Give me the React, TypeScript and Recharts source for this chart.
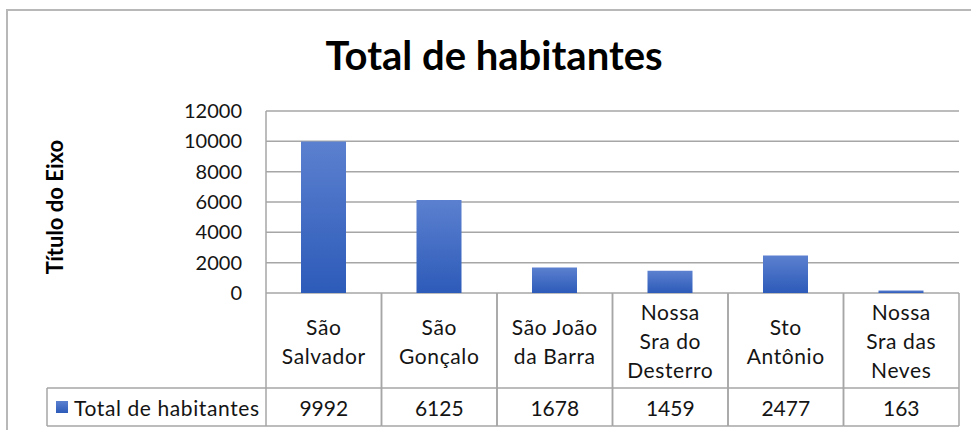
import { BarChart, Bar, XAxis, YAxis, CartesianGrid } from 'recharts'

// category labels as they wrap in the data table
const categoryLines = [
  ['São', 'Salvador'],
  ['São', 'Gonçalo'],
  ['São João', 'da Barra'],
  ['Nossa', 'Sra do', 'Desterro'],
  ['Sto', 'Antônio'],
  ['Nossa', 'Sra das', 'Neves'],
]
const habitantes = [9992, 6125, 1678, 1459, 2477, 163]
const yTicks = [0, 2000, 4000, 6000, 8000, 10000, 12000]
const seriesName = 'Total de habitantes'

const data = categoryLines.map((lines, i) => ({
  name: lines.join(' '),
  value: habitantes[i],
}))

const W = 971
const H = 430
const PLOT_LEFT = 266
const PLOT_RIGHT = 959
const CELL_W = (PLOT_RIGHT - PLOT_LEFT) / data.length
const LABEL_ROW_H = 95
const VALUE_ROW_H = 38
const LEGEND_LEFT = 47
const LINE_H = 29
const GRID = '#a6a6a6'
const FONT = 'Lato, "Open Sans", sans-serif'
const TEXT = '#141414'

function CategoryTick(props: any) {
  const { x, y, payload } = props
  const idx = data.findIndex(d => d.name === payload.value)
  const lines = categoryLines[idx] ?? []
  const half = CELL_W / 2
  const startY = y + LABEL_ROW_H / 2 - ((lines.length - 1) * LINE_H) / 2
  return (
    <g>
      <line x1={x - half} x2={x - half} y1={y} y2={y + LABEL_ROW_H} stroke={GRID} strokeWidth={1.5} />
      <line x1={x + half} x2={x + half} y1={y} y2={y + LABEL_ROW_H} stroke={GRID} strokeWidth={1.5} />
      {lines.map((l, i) => (
        <text
          key={i}
          x={x}
          y={startY + i * LINE_H}
          textAnchor="middle"
          dominantBaseline="central"
          fontFamily={FONT}
          fontSize={21}
          letterSpacing={0.6}
          fill={TEXT}
        >
          {l}
        </text>
      ))}
    </g>
  )
}

function ValueTick(props: any) {
  const { x, y, payload } = props
  const idx = data.findIndex(d => d.name === payload.value)
  const half = CELL_W / 2
  const left = x - half
  const right = x + half
  const bottom = y + VALUE_ROW_H
  return (
    <g>
      {idx === 0 && (
        <g>
          <line x1={LEGEND_LEFT} x2={left} y1={y} y2={y} stroke={GRID} strokeWidth={1.5} />
          <line x1={LEGEND_LEFT} x2={left} y1={bottom} y2={bottom} stroke={GRID} strokeWidth={1.5} />
          <line x1={LEGEND_LEFT} x2={LEGEND_LEFT} y1={y} y2={bottom} stroke={GRID} strokeWidth={1.5} />
          <rect x={LEGEND_LEFT + 9} y={y + VALUE_ROW_H / 2 - 6} width={12} height={12} fill="url(#barFill)" />
          <text
            x={LEGEND_LEFT + 27}
            y={y + VALUE_ROW_H / 2}
            dominantBaseline="central"
            fontFamily={FONT}
            fontSize={21}
            letterSpacing={0.6}
            fill={TEXT}
          >
            {seriesName}
          </text>
        </g>
      )}
      <line x1={left} x2={right} y1={y} y2={y} stroke={GRID} strokeWidth={1.5} />
      <line x1={left} x2={right} y1={bottom} y2={bottom} stroke={GRID} strokeWidth={1.5} />
      <line x1={left} x2={left} y1={y} y2={bottom} stroke={GRID} strokeWidth={1.5} />
      <line x1={right} x2={right} y1={y} y2={bottom} stroke={GRID} strokeWidth={1.5} />
      <text
        x={x}
        y={y + VALUE_ROW_H / 2}
        textAnchor="middle"
        dominantBaseline="central"
        fontFamily={FONT}
        fontSize={21}
        fill={TEXT}
      >
        {habitantes[idx]}
      </text>
    </g>
  )
}

export default function App() {
  return (
    <div style={{ position: 'absolute', left: 0, top: 0, width: W, height: H, overflow: 'hidden', background: '#fff' }}>
      {/* chart frame: only left and top edges are in view */}
      <div
        style={{
          position: 'absolute', left: 6, top: 9, width: W + 20, height: H + 20,
          borderLeft: '2px solid #b8b8b8', borderTop: '2px solid #b8b8b8',
        }}
      />
      <div style={{ position: 'absolute', left: 0, top: 0 }}>
        <BarChart
          width={W}
          height={H}
          data={data}
          margin={{ top: 111, right: W - PLOT_RIGHT, left: 0, bottom: H - 293 - LABEL_ROW_H - VALUE_ROW_H }}
        >
          <defs>
            <linearGradient id="barFill" x1="0" y1="0" x2="0" y2="1">
              <stop offset="0%" stopColor="#5b80cf" />
              <stop offset="100%" stopColor="#2d5bb9" />
            </linearGradient>
          </defs>
          <text
            x={494}
            y={70}
            textAnchor="middle"
            fontFamily={FONT}
            fontWeight={700}
            fontSize={40}
            fill="#000"
          >
            Total de habitantes
          </text>
          <CartesianGrid vertical={false} stroke={GRID} strokeWidth={1.5} />
          <YAxis
            width={PLOT_LEFT}
            domain={[0, 12000]}
            ticks={yTicks}
            interval={0}
            axisLine={{ stroke: GRID, strokeWidth: 1.5 }}
            tickLine={false}
            tickSize={0}
            tickMargin={24}
            tick={{ fontFamily: FONT, fontSize: 20, fill: TEXT }}
            label={{
              content: () => (
                <text
                  x={54}
                  y={207}
                  transform="rotate(-90 54 207)"
                  textAnchor="middle"
                  dominantBaseline="central"
                  fontFamily={FONT}
                  fontWeight={700}
                  fontSize={22}
                  fill="#000"
                >
                  Título do Eixo
                </text>
              ),
            }}
          />
          <XAxis
            dataKey="name"
            height={LABEL_ROW_H}
            axisLine={false}
            tickLine={false}
            tickSize={0}
            tickMargin={0}
            interval={0}
            tick={<CategoryTick />}
          />
          <XAxis
            xAxisId="vals"
            dataKey="name"
            height={VALUE_ROW_H}
            axisLine={false}
            tickLine={false}
            tickSize={0}
            tickMargin={0}
            interval={0}
            tick={<ValueTick />}
          />
          <Bar dataKey="value" fill="url(#barFill)" barSize={45} isAnimationActive={false} />
        </BarChart>
      </div>
    </div>
  )
}
